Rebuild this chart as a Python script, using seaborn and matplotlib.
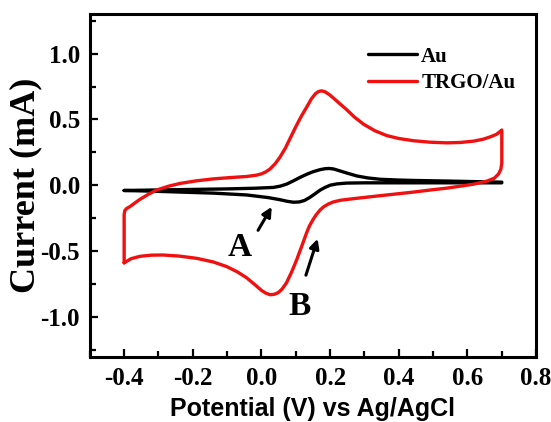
"""
Cyclic voltammograms of bare Au and TRGO/Au electrodes.
"""

import pandas as pd
import matplotlib
matplotlib.use("Agg")
import matplotlib.pyplot as plt
from matplotlib.ticker import MultipleLocator
import seaborn as sns

# ─── Data ─────────────────────────────────────────────────────────────────────

# bare Au: anodic branch (-0.4 -> 0.7), then cathodic branch (0.7 -> -0.4)
au_fwd_x = [-0.40, -0.30, -0.20, -0.10, -0.02, 0.034, 0.055, 0.073, 0.093, 0.113, 0.132,
            0.150, 0.171, 0.185, 0.197, 0.210, 0.229, 0.250, 0.278, 0.310, 0.345, 0.400,
            0.443, 0.550, 0.700]
au_fwd_y = [-0.038, -0.034, -0.030, -0.026, -0.021, -0.015, -0.005, 0.010, 0.035, 0.062, 0.085,
            0.104, 0.120, 0.127, 0.129, 0.125, 0.110, 0.093, 0.072, 0.057, 0.047, 0.041,
            0.038, 0.033, 0.025]
au_rev_x = [0.700, 0.550, 0.443, 0.300, 0.248, 0.220, 0.200, 0.185, 0.171, 0.155, 0.140,
            0.125, 0.110, 0.093, 0.075, 0.054, 0.020, -0.043, -0.140, -0.238, -0.320, -0.400]
au_rev_y = [0.020, 0.020, 0.020, 0.020, 0.018, 0.012, 0.002, -0.015, -0.035, -0.065, -0.092,
            -0.114, -0.125, -0.127, -0.120, -0.108, -0.092, -0.072, -0.058, -0.050, -0.043, -0.038]

# TRGO/Au
trgo_fwd_x = [-0.400, -0.400, -0.400, -0.398, -0.393, -0.383, -0.370, -0.354, -0.330, -0.306,
              -0.270, -0.238, -0.190, -0.140, -0.090, -0.043, -0.015, 0.000, 0.012, 0.025,
              0.040, 0.054, 0.070, 0.085, 0.100, 0.115, 0.132, 0.145, 0.157, 0.166,
              0.175, 0.185, 0.197, 0.209, 0.228, 0.248, 0.270, 0.297, 0.330, 0.365,
              0.400, 0.443, 0.490, 0.540, 0.580, 0.618, 0.645, 0.666, 0.685, 0.700]
trgo_fwd_y = [-0.586, -0.400, -0.220, -0.190, -0.175, -0.160, -0.135, -0.105, -0.068, -0.035,
              -0.005, 0.015, 0.035, 0.050, 0.060, 0.068, 0.078, 0.088, 0.102, 0.125,
              0.165, 0.215, 0.285, 0.365, 0.445, 0.520, 0.595, 0.655, 0.695, 0.712,
              0.717, 0.710, 0.690, 0.664, 0.620, 0.575, 0.520, 0.465, 0.415, 0.378,
              0.356, 0.339, 0.328, 0.323, 0.326, 0.336, 0.350, 0.368, 0.388, 0.420]
trgo_rev_x = [0.700, 0.700, 0.700, 0.697, 0.690, 0.678, 0.657, 0.618, 0.580, 0.540,
              0.490, 0.443, 0.390, 0.330, 0.268, 0.230, 0.209, 0.195, 0.182, 0.171,
              0.160, 0.151, 0.140, 0.132, 0.118, 0.103, 0.088, 0.073, 0.060, 0.049,
              0.037, 0.025, 0.012, 0.000, -0.020, -0.043, -0.070, -0.101, -0.140, -0.189,
              -0.240, -0.286, -0.320, -0.354, -0.380, -0.400]
trgo_rev_y = [0.420, 0.300, 0.170, 0.120, 0.085, 0.055, 0.033, 0.010, -0.005, -0.020,
              -0.035, -0.050, -0.065, -0.082, -0.100, -0.112, -0.125, -0.140, -0.160, -0.185,
              -0.220, -0.255, -0.305, -0.355, -0.455, -0.560, -0.655, -0.737, -0.785, -0.812,
              -0.825, -0.828, -0.815, -0.795, -0.750, -0.700, -0.655, -0.615, -0.580, -0.552,
              -0.535, -0.527, -0.528, -0.537, -0.555, -0.586]

labels = ["Au", "TRGO/Au"]
colors = ["black", "#f01010"]
x_ticks = [-0.4, -0.2, 0.0, 0.2, 0.4, 0.6, 0.8]
y_ticks = [-1.0, -0.5, 0.0, 0.5, 1.0]

df = pd.concat([
    pd.DataFrame({"E": au_fwd_x + au_rev_x, "I": au_fwd_y + au_rev_y, "electrode": labels[0]}),
    pd.DataFrame({"E": trgo_fwd_x + trgo_rev_x, "I": trgo_fwd_y + trgo_rev_y, "electrode": labels[1]}),
], ignore_index=True)

# ─── Plot ─────────────────────────────────────────────────────────────────────

sns.set_theme(style="ticks")
plt.rcParams["font.family"] = ["Liberation Serif", "DejaVu Serif"]
plt.rcParams["font.weight"] = "bold"
plt.rcParams["axes.unicode_minus"] = False
plt.rcParams["text.color"] = "black"
plt.rcParams["axes.labelcolor"] = "black"

fig, ax = plt.subplots(figsize=(5.51, 4.22), dpi=100)
fig.subplots_adjust(left=0.163, right=0.973, top=0.967, bottom=0.154)

sns.lineplot(data=df, x="E", y="I", hue="electrode", palette=colors,
             sort=False, estimator=None, lw=2.4, ax=ax)
for ln in ax.get_lines():
    ln.set_solid_joinstyle("round")

ax.set_xlim(-0.5, 0.8)
ax.set_ylim(-1.3, 1.3)
ax.set_xticks(x_ticks)
ax.set_yticks(y_ticks)
ax.xaxis.set_minor_locator(MultipleLocator(0.1))
ax.yaxis.set_minor_locator(MultipleLocator(0.25))
ax.set_xticklabels([f"{v:.1f}" for v in x_ticks])
ax.set_yticklabels([f"{v:.1f}" for v in y_ticks])

ax.tick_params(which="both", direction="in", width=1.6, colors="black",
               labelcolor="black", labelsize=18, top=False, right=False)
ax.tick_params(which="major", length=6, pad=7)
ax.tick_params(which="minor", length=4)
for lab in ax.get_xticklabels() + ax.get_yticklabels():
    lab.set_fontweight("bold")
for sp in ax.spines.values():
    sp.set_visible(True)
    sp.set_linewidth(2.2)
    sp.set_color("black")

ax.set_xlabel("Potential (V) vs Ag/AgCl", fontsize=18, fontweight="bold", color="black",
              family=["Liberation Sans", "DejaVu Sans"])
ax.set_ylabel("Current (mA)", fontsize=26, fontweight="bold", color="black")
ax.xaxis.set_label_coords(0.5, -0.118)
ax.yaxis.set_label_coords(-0.107, 0.5)

leg = ax.legend(loc="upper left", bbox_to_anchor=(0.600, 0.935), frameon=False,
                prop={"size": 15, "weight": "bold"}, handlelength=2.35,
                handletextpad=0.2, borderpad=0, labelspacing=0.3)
for h in leg.get_lines():
    h.set_linewidth(2.4)

# peak markers
ax.annotate("", xy=(0.034, -0.144), xytext=(-0.014, -0.358),
            arrowprops=dict(arrowstyle="-|>", lw=2.2, color="black", mutation_scale=14))
ax.annotate("", xy=(0.166, -0.384), xytext=(0.127, -0.70),
            arrowprops=dict(arrowstyle="-|>", lw=2.2, color="black", mutation_scale=14))
ax.text(-0.063, -0.47, "A", fontsize=24, fontweight="bold", ha="center", va="center")
ax.text(0.112, -0.92, "B", fontsize=24, fontweight="bold", ha="center", va="center")

plt.savefig("out.png", dpi=100)
plt.close()
